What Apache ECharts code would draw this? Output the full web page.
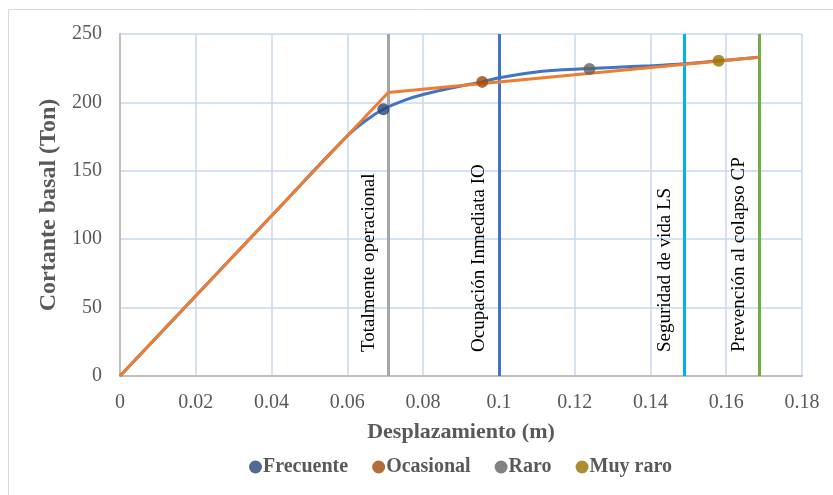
<!DOCTYPE html>
<html><head><meta charset="utf-8">
<script src="https://cdn.jsdelivr.net/npm/echarts@6/dist/echarts.min.js"></script>
<style>html,body{margin:0;padding:0;background:#fff}#c{width:833px;height:495px}</style>
</head><body><div id="c"></div>
<script>
// Capacity curve (blue)
const curveX = [0, 0.02, 0.04, 0.06, 0.065, 0.0695, 0.075, 0.08, 0.09, 0.0956, 0.1, 0.11, 0.12, 0.1239, 0.13, 0.14, 0.149, 0.158, 0.1686];
const curveY = [0, 58.6, 117.1, 175.5, 187, 195, 201.5, 205.8, 212, 215, 218, 222.3, 224.3, 224.8, 225.6, 226.8, 228.2, 230.4, 233];
// Bilinear idealization (orange)
const bilinX = [0, 0.0708, 0.1686];
const bilinY = [0, 207.3, 233];
// Performance points
const pointNames = ['Frecuente', 'Ocasional', 'Raro', 'Muy raro'];
const pointX = [0.0695, 0.0956, 0.1239, 0.158];
const pointY = [195, 215, 224.5, 230.4];
// Performance limits
const limitNames = ['Totalmente operacional', 'Ocupación Inmediata IO', 'Seguridad de vida LS', 'Prevención al colapso CP'];
const limitX = [0.0708, 0.1, 0.149, 0.1686];

const pointColors = ['#264478', '#9e480e', '#636363', '#997300'];
const limitColors = ['#a5a5a5', '#4472c4', '#00b0f0', '#70ad47'];
const FONT = "'Liberation Serif', 'Times New Roman', serif";

const chart = echarts.init(document.getElementById('c'));
const series = [
  {
    name: 'curve', type: 'line', smooth: 0.4, symbol: 'none',
    data: curveX.map((x, i) => [x, curveY[i]]),
    lineStyle: { color: '#4472c4', width: 3 }, z: 3,
    markLine: {
      silent: true, symbol: 'none', precision: 4,
      data: limitX.map((x, i) => ({
        xAxis: x,
        lineStyle: { color: limitColors[i], width: 3, type: 'solid' },
        label: { formatter: limitNames[i] }
      })),
      label: {
        show: true, position: 'insideStartTop', distance: [24, 10],
        color: '#000', fontFamily: FONT, fontSize: 19
      },
      z: 2
    }
  },
  {
    name: 'bilineal', type: 'line', symbol: 'none',
    data: bilinX.map((x, i) => [x, bilinY[i]]),
    lineStyle: { color: '#ed7d31', width: 3 }, z: 4
  }
];
pointNames.forEach((n, i) => {
  series.push({
    name: n, type: 'scatter', symbol: 'circle', symbolSize: 12,
    data: [[pointX[i], pointY[i]]],
    itemStyle: { color: pointColors[i] }, z: 5
  });
});

chart.setOption({
  animation: false,
  graphic: [{ type: 'rect', shape: { x: 8.5, y: 9.5, width: 840, height: 500 },
    style: { fill: 'none', stroke: '#d9d9d9', lineWidth: 1 }, silent: true }],
  grid: { left: 120, right: 31, top: 34, bottom: 119 },
  legend: {
    data: pointNames, top: 452, left: 244, icon: 'circle',
    itemWidth: 13, itemHeight: 13, itemGap: 24,
    textStyle: { fontFamily: FONT, fontSize: 20, fontWeight: 'bold', color: '#595959', padding: [0, 0, 0, -4] }
  },
  xAxis: {
    type: 'value', min: 0, max: 0.18, interval: 0.02,
    name: 'Desplazamiento (m)', nameLocation: 'middle', nameGap: 45,
    nameTextStyle: { fontFamily: FONT, fontSize: 22, fontWeight: 'bold', color: '#595959' },
    axisLine: { show: true, lineStyle: { color: '#bfbfbf', width: 2 } },
    axisTick: { show: false },
    axisLabel: { fontFamily: FONT, fontSize: 20, color: '#595959', margin: 17,
      formatter: v => String(+v.toFixed(2)) },
    splitLine: { show: true, lineStyle: { color: '#c9d7ef', width: 1.5 } }
  },
  yAxis: {
    type: 'value', min: 0, max: 250, interval: 50,
    name: 'Cortante basal (Ton)', nameLocation: 'middle', nameGap: 55,
    nameTextStyle: { fontFamily: FONT, fontSize: 24, fontWeight: 'bold', color: '#595959' },
    axisLine: { show: true, lineStyle: { color: '#bfbfbf', width: 2 } },
    axisTick: { show: false },
    axisLabel: { fontFamily: FONT, fontSize: 20, color: '#595959', margin: 18 },
    splitLine: { show: true, lineStyle: { color: '#c9d7ef', width: 1.5 } }
  },
  series: series
});
</script></body></html>
